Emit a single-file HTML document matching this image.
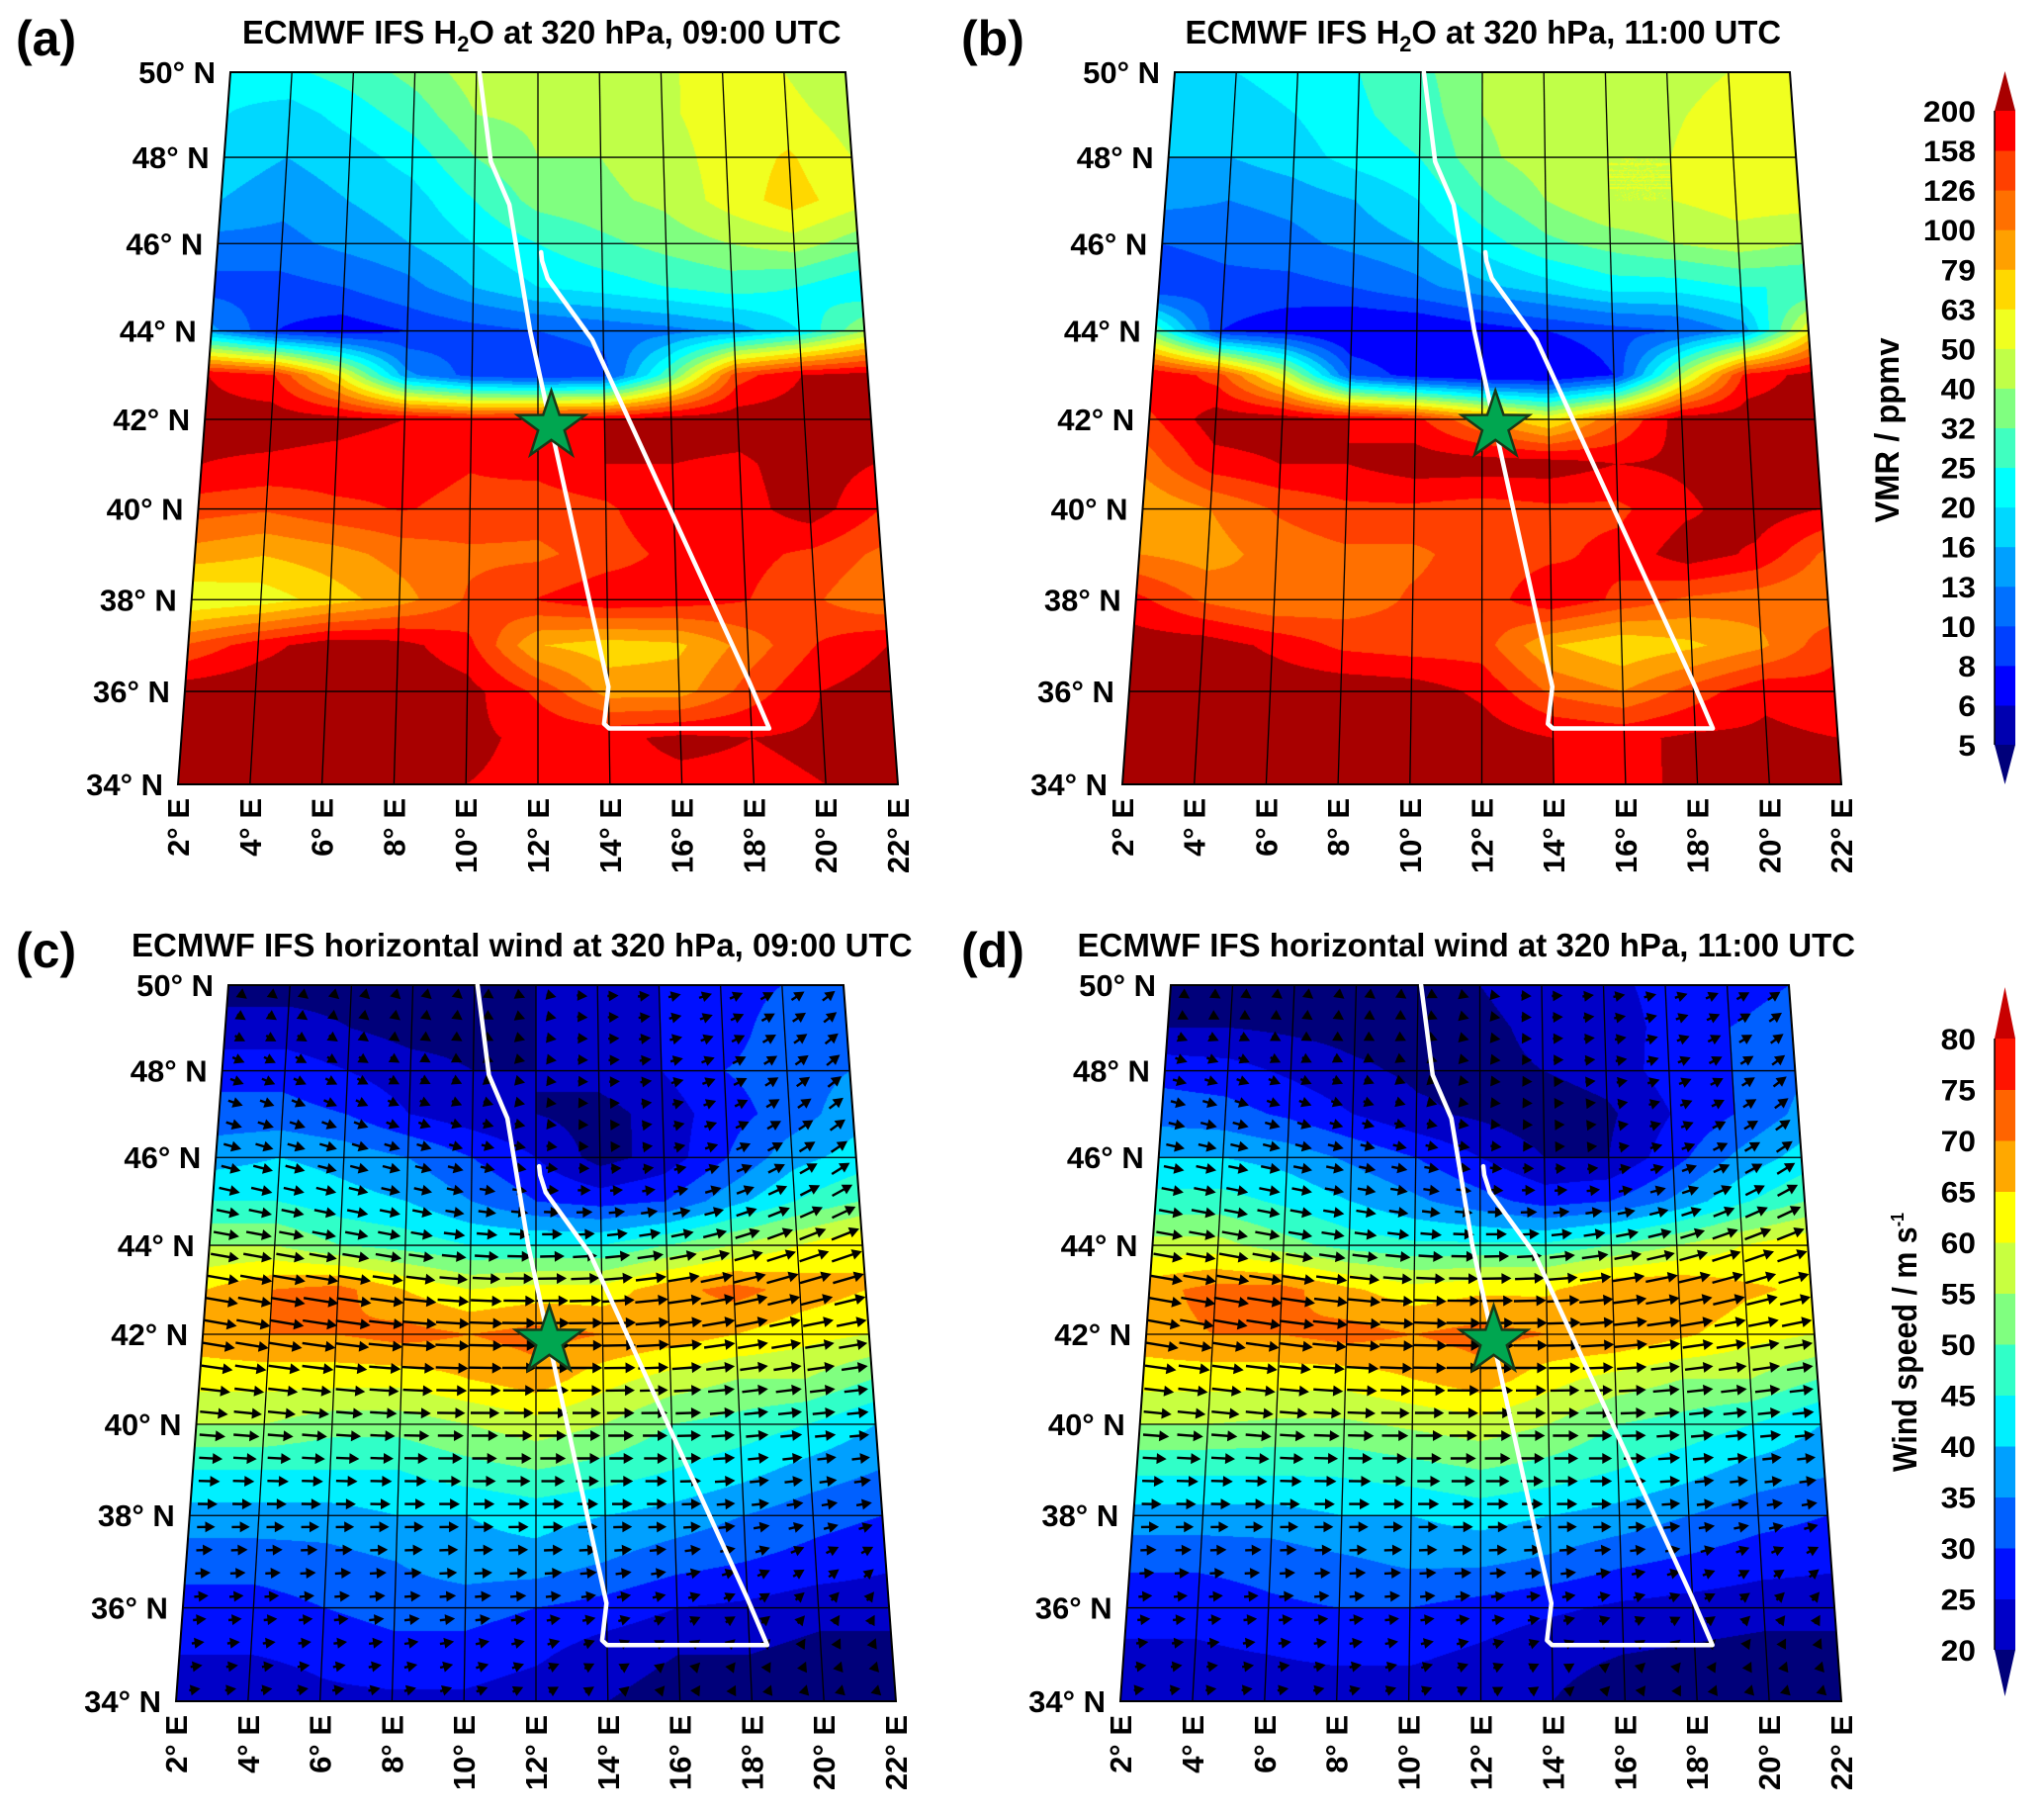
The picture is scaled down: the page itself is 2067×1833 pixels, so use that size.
<!DOCTYPE html>
<html><head><meta charset="utf-8">
<style>
html,body{margin:0;padding:0;background:#fff;}
#wrap{position:relative;width:2067px;height:1833px;overflow:hidden;}
canvas,svg{position:absolute;left:0;top:0;}
text{font-family:"Liberation Sans",Arial,sans-serif;font-weight:bold;fill:#000;}
</style></head>
<body>
<div id="wrap">
<canvas id="cv" width="2067" height="1833"></canvas>
<svg id="sv" width="2067" height="1833" xmlns="http://www.w3.org/2000/svg"></svg>
</div>
<script>
// ---------------- DATA ----------------
const gridLats = [50,49,48,47,46,45,44,43,42,41,40,39,38,37,36,35,34];
const gridLons = [2,4,6,8,10,12,14,16,18,20,22];
// H2O ppmv, 09 UTC
const h2o09 = [
[22,24,28,35,45,45,45,50,50,50,40],
[20,18,22,28,40,42,42,48,55,55,45],
[18,16,18,22,32,40,40,45,55,65,50],
[16,14,16,18,25,35,38,42,55,70,55],
[12,12,14,16,20,25,30,35,40,45,35],
[9,9,10,12,16,20,22,25,28,25,20],
[14,8,7,8,9,10,11,12,14,20,40],
[200,160,60,14,9,8,9,30,140,200,220],
[220,230,220,200,180,190,200,230,230,230,200],
[200,190,180,170,160,170,200,200,190,230,200],
[140,130,150,160,150,140,150,200,180,230,160],
[90,80,90,110,120,120,140,170,170,150,120],
[50,55,70,90,130,160,190,180,160,130,100],
[130,180,230,220,170,80,70,75,110,160,200],
[230,240,240,240,220,150,90,90,140,200,230],
[230,240,240,240,210,190,190,210,200,210,230],
[230,240,240,220,200,190,190,190,190,200,230]];
// H2O ppmv, 11 UTC
const h2o11 = [
[20,20,22,25,30,40,42,45,45,50,50],
[18,18,20,24,28,40,44,48,48,55,55],
[16,16,18,22,25,38,45,50,50,60,60],
[14,13,14,16,20,30,40,50,50,55,55],
[10,11,12,14,16,22,30,35,40,45,40],
[8,9,9,10,12,15,18,22,22,25,25],
[30,8,7,6,6,7,8,9,10,14,60],
[200,140,50,10,7,6,6,8,40,170,220],
[150,230,230,200,170,100,60,120,230,230,230],
[110,180,200,200,230,230,230,200,210,230,230],
[80,100,130,150,150,140,150,150,190,230,200],
[100,90,110,120,120,140,150,170,230,190,120],
[170,120,100,110,130,140,190,150,120,110,100],
[230,230,190,150,140,140,80,65,75,95,150],
[240,240,240,240,230,190,120,100,140,190,170],
[240,240,240,240,240,230,200,190,210,210,200],
[240,240,240,240,220,200,200,200,200,200,220]];
// wind speed m/s, 09 UTC
const wind09 = [
[18,18,18,18,18,20,22,25,28,30,32],
[22,22,20,18,18,20,22,25,28,32,34],
[28,28,25,22,20,20,22,25,30,32,35],
[32,32,30,25,22,20,18,22,28,32,38],
[38,40,38,35,30,25,18,22,30,38,42],
[45,45,42,40,35,30,28,30,38,45,50],
[55,55,50,48,45,45,45,50,55,60,65],
[65,70,72,65,60,62,62,68,72,68,65],
[68,70,70,72,70,72,70,68,65,62,60],
[62,62,62,62,65,68,62,58,55,55,50],
[55,55,52,52,55,58,55,50,48,45,40],
[45,45,45,45,48,50,48,45,42,38,35],
[38,38,38,40,40,42,40,38,35,32,30],
[32,32,33,35,38,38,35,32,30,28,26],
[28,28,30,32,32,30,28,25,24,22,22],
[25,25,26,28,28,26,22,20,20,18,18],
[22,22,24,24,24,22,20,18,18,18,18]];
// wind speed m/s, 11 UTC
const wind11 = [
[17,17,17,17,18,20,22,24,26,28,30],
[20,20,19,18,18,19,21,23,26,30,32],
[28,27,24,21,19,19,20,22,27,30,34],
[33,32,29,25,21,19,17,19,25,30,36],
[40,40,38,34,30,25,20,20,28,36,42],
[47,47,44,40,36,32,28,30,36,44,50],
[57,57,52,48,46,46,46,50,55,60,64],
[68,72,72,66,62,64,64,70,70,66,64],
[68,70,70,72,70,72,70,70,66,62,60],
[62,62,62,62,65,68,62,58,55,55,50],
[55,55,54,54,56,58,55,50,48,45,40],
[46,46,46,46,48,50,48,45,42,38,36],
[38,38,38,40,40,42,40,38,35,32,30],
[31,31,32,34,36,36,34,31,29,27,26],
[27,27,29,30,30,28,26,24,23,22,22],
[24,24,25,26,26,24,21,20,19,18,18],
[21,21,22,22,22,21,20,18,18,18,18]];
// wind direction (deg from east, + = northward) on 2-degree lat rows
const dirLats = [50,48,46,44,42,40,38,36,34];
const dir09 = [
[-40,-40,-45,-45,-40,-20,0,10,20,30,40],
[-20,-25,-30,-30,-25,-10,0,10,25,35,40],
[-15,-15,-15,-15,-15,-10,0,10,20,30,35],
[-10,-10,-10,-10,-5,0,5,10,15,20,20],
[-10,-10,-8,-5,-2,0,0,5,10,10,10],
[-5,-5,-5,-2,0,0,0,0,5,5,5],
[0,0,0,0,0,0,0,0,5,10,10],
[5,5,5,5,5,5,10,15,30,50,60],
[10,10,10,15,20,30,40,60,70,80,80]];
const dir11 = [
[-35,-35,-40,-40,-35,-15,0,10,15,25,35],
[-15,-20,-25,-25,-20,-8,0,8,20,30,40],
[-12,-12,-12,-12,-12,-8,0,8,18,28,35],
[-10,-10,-10,-8,-5,0,5,10,15,20,20],
[-10,-10,-8,-5,-2,0,0,5,8,10,10],
[-5,-5,-5,-2,0,0,0,0,5,5,5],
[0,0,0,0,0,0,0,0,5,8,10],
[5,5,5,5,5,5,8,15,25,45,60],
[10,10,10,15,20,30,40,55,70,80,80]];
// flight track (lon, lat)
const trackLon = [10.1,10.5,11.1,11.76,12.4,14.0,13.86,14.0,18.5,18.0,13.66,12.3,12.13,12.1];
const trackLat = [50,47.9,46.9,44.0,41.8,36.1,35.3,35.2,35.2,36.2,43.8,45.2,45.6,45.8];
const starLon = 12.4, starLat = 41.85;
// colour scales
const h2oLevels = [5,6,8,10,13,16,20,25,32,40,50,63,79,100,126,158,200];
const h2oColors = ['#00007a','#0000b0','#0000ff','#0040ff','#0070ff','#00a0ff','#00d8ff','#00ffff','#40ffc0','#80ff80','#c0ff48','#f0ff20','#ffd800','#ffa000','#ff7000','#ff4000','#ff0000','#a80000'];
const windLevels = [20,25,30,35,40,45,50,55,60,65,70,75,80];
const windColors = ['#00007a','#0000c8','#0010ff','#0060ff','#00a0ff','#00f0ff','#30ffc8','#80ff80','#c8ff40','#ffff00','#ffa800','#ff6400','#ff1400','#c80000'];
const latTicks = [50,48,46,44,42,40,38,36,34];
const lonTicks = [2,4,6,8,10,12,14,16,18,20,22];

// ---------------- GEOMETRY ----------------
const panels = [
 {id:'a',TL:[233,73],TR:[855,73],BL:[180,793],BR:[908,793],kind:'h2o',grid:h2o09,title:['ECMWF IFS H','2','O at 320 hPa, 09:00 UTC'],tcx:548,tby:44,tw:606,lab:'(a)',lx:16,ly:56},
 {id:'b',TL:[1188,73],TR:[1810,73],BL:[1135,793],BR:[1862,793],kind:'h2o',grid:h2o11,title:['ECMWF IFS H','2','O at 320 hPa, 11:00 UTC'],tcx:1500,tby:44,tw:603,lab:'(b)',lx:972,ly:56},
 {id:'c',TL:[231,996],TR:[853,996],BL:[178,1720],BR:[906,1720],kind:'wind',grid:wind09,dir:dir09,title:['ECMWF IFS  horizontal wind at 320 hPa, 09:00 UTC'],tcx:528,tby:967,tw:790,lab:'(c)',lx:16,ly:978},
 {id:'d',TL:[1184,996],TR:[1809,996],BL:[1133,1720],BR:[1862,1720],kind:'wind',grid:wind11,dir:dir11,title:['ECMWF IFS  horizontal wind at 320 hPa, 11:00 UTC'],tcx:1483,tby:967,tw:787,lab:'(d)',lx:972,ly:978}
];
const QA=42.875, QB=0.1406, QN=722;
function fOfLat(lat){const d=50-lat;return (QA*d+QB*d*d)/QN;}
function proj(P,lon,lat){
  const t=fOfLat(lat);
  const y=P.TL[1]+t*(P.BL[1]-P.TL[1]);
  const xl=P.TL[0]+t*(P.BL[0]-P.TL[0]);
  const xr=P.TR[0]+t*(P.BR[0]-P.TR[0]);
  return [xl+(lon-2)/20*(xr-xl),y];
}
function sampleGrid(g,lat,lon,rows,logv){
  const step = rows===gridLats ? 1 : 2;
  let r=(50-lat)/step, c=(lon-2)/2;
  r=Math.max(0,Math.min(rows.length-1.0001,r)); c=Math.max(0,Math.min(9.9999,c));
  const r0=Math.floor(r), c0=Math.floor(c), fr=r-r0, fc=c-c0;
  const r1=Math.min(r0+1,rows.length-1), c1=Math.min(c0+1,10);
  let v00=g[r0][c0],v01=g[r0][c1],v10=g[r1][c0],v11=g[r1][c1];
  if(logv){v00=Math.log(v00);v01=Math.log(v01);v10=Math.log(v10);v11=Math.log(v11);}
  const v=(v00*(1-fc)+v01*fc)*(1-fr)+(v10*(1-fc)+v11*fc)*fr;
  return logv?Math.exp(v):v;
}
function hex2rgb(h){return [parseInt(h.substr(1,2),16),parseInt(h.substr(3,2),16),parseInt(h.substr(5,2),16)];}
function colorIdx(v,levels){let i=0;while(i<levels.length&&v>=levels[i])i++;return i;}

// ---------------- FIELDS (canvas) ----------------
const cv=document.getElementById('cv'), ctx=cv.getContext('2d');
panels.forEach(P=>{
  const levels=P.kind==='h2o'?h2oLevels:windLevels;
  const cols=(P.kind==='h2o'?h2oColors:windColors).map(hex2rgb);
  const x0=Math.min(P.TL[0],P.BL[0]), x1=Math.max(P.TR[0],P.BR[0]);
  const y0=P.TL[1], y1=P.BL[1];
  const w=x1-x0, h=y1-y0;
  const img=ctx.createImageData(w,h);
  for(let py=0;py<h;py++){
    const t=(py+0.5)/h;
    const d=(-QA+Math.sqrt(QA*QA+4*QB*QN*t))/(2*QB);
    const lat=50-d;
    const xl=P.TL[0]+t*(P.BL[0]-P.TL[0]), xr=P.TR[0]+t*(P.BR[0]-P.TR[0]);
    for(let px=0;px<w;px++){
      const X=x0+px+0.5;
      if(X<xl||X>xr)continue;
      const lon=2+20*(X-xl)/(xr-xl);
      const v=sampleGrid(P.grid,lat,lon,gridLats,P.kind==='h2o');
      const c=cols[colorIdx(v,levels)];
      const k=(py*w+px)*4;
      img.data[k]=c[0];img.data[k+1]=c[1];img.data[k+2]=c[2];img.data[k+3]=255;
    }
  }
  ctx.putImageData(img,x0,y0);
});

// ---------------- OVERLAY (svg) ----------------
const NS='http://www.w3.org/2000/svg';
const sv=document.getElementById('sv');
function mk(tag,attrs,parent){const e=document.createElementNS(NS,tag);for(const k in attrs)e.setAttribute(k,attrs[k]);(parent||sv).appendChild(e);return e;}

panels.forEach(P=>{
  const g=mk('g',{});
  
  
  if(P.kind==='wind'){
    const ga=mk('g',{},g);
    
    
    for(let la=34.25;la<50;la+=0.5){
      for(let lo=2.5;lo<22;lo+=1){
        const sp=sampleGrid(P.grid,la,lo,gridLats,false);
        const ang=sampleGrid(P.dir,la,lo,dirLats,false)*Math.PI/180;
        const [cx,cy]=proj(P,lo,la);
        const L=Math.max(10,sp*0.5);
        const dx=Math.cos(ang), dy=-Math.sin(ang);
        const sx=cx-dx*L/2, sy=cy-dy*L/2, ex=cx+dx*L/2, ey=cy+dy*L/2;
        const hl=10, hw=5.5;
        const bx=ex-dx*hl, by=ey-dy*hl;
        const p=mk('path',{d:`M${sx.toFixed(1)},${sy.toFixed(1)}L${(bx+dx*2).toFixed(1)},${(by+dy*2).toFixed(1)}`,stroke:'#000','stroke-width':2.4,fill:'none'},ga);
        
        
        const hd=mk('path',{d:`M${ex.toFixed(1)},${ey.toFixed(1)}L${(bx-dy*hw).toFixed(1)},${(by+dx*hw).toFixed(1)}L${(bx+dy*hw).toFixed(1)},${(by-dx*hw).toFixed(1)}Z`,fill:'#000'},ga);
        
        
      }
    }
  }
  const gg=mk('g',{stroke:'#000','stroke-width':1.3,fill:'none'},g);
  
  
  latTicks.forEach(lat=>{
    const a=proj(P,2,lat), b=proj(P,22,lat);
    const l=mk('line',{x1:a[0],y1:a[1],x2:b[0],y2:b[1]},gg);
    
    
  });
  lonTicks.forEach(lon=>{
    const a=proj(P,lon,50), b=proj(P,lon,34);
    const l=mk('line',{x1:a[0],y1:a[1],x2:b[0],y2:b[1]},gg);
    
    
  });
  const frame=mk('polygon',{points:`${P.TL} ${P.TR} ${P.BR} ${P.BL}`,stroke:'#000','stroke-width':2,fill:'none'},g);
  
  
  const pts=trackLon.map((lo,i)=>proj(P,lo,trackLat[i]).map(v=>v.toFixed(1)).join(',')).join(' ');
  const tr=mk('polyline',{points:pts,stroke:'#fff','stroke-width':4.5,fill:'none','stroke-linejoin':'round','stroke-linecap':'round'},g);
  
  
  const [sx,sy]=proj(P,starLon,starLat);
  let sp='';
  for(let i=0;i<10;i++){const r=i%2?14:36;const a=-Math.PI/2+i*Math.PI/5;sp+=(sx+r*Math.cos(a)).toFixed(1)+','+(sy+r*Math.sin(a)).toFixed(1)+' ';}
  const st=mk('polygon',{points:sp,fill:'#00a650',stroke:'#183818','stroke-width':2.5},g);
  
  
  latTicks.forEach(lat=>{
    const [x,y]=proj(P,2,lat);
    const t=mk('text',{x:x-15,y:y+11,'text-anchor':'end','font-size':31},g);
    t.textContent=lat+'\u00B0 N';
    
    
  });
  lonTicks.forEach(lon=>{
    const [x,y]=proj(P,lon,34);
    const t=mk('text',{transform:`translate(${(x+11).toFixed(1)},${y+14}) rotate(-90)`,'text-anchor':'end','font-size':31},g);
    t.textContent=lon+'\u00B0 E';
    
    
  });
  const tg=mk('g',{},g);
  
  
  const tt=mk('text',{x:0,y:0,'font-size':33},tg);
  const s1=mk('tspan',{},tt); s1.textContent=P.title[0];
  if(P.title.length>1){
    const s2=mk('tspan',{dy:8,'font-size':22},tt); s2.textContent=P.title[1];
    const s3=mk('tspan',{dy:-8},tt); s3.textContent=P.title[2];
  }
  const bw=tt.getComputedTextLength()||P.tw;
  const sc=P.tw/bw;
  tg.setAttribute('transform',`translate(${P.tcx-P.tw/2},${P.tby}) scale(${sc.toFixed(3)},1)`);
  const pl=mk('text',{x:P.lx,y:P.ly,'font-size':50},g);
  pl.textContent=P.lab;
  
  
});

function colorbar(name,levels,colors,x,yTop,yBot,tipTop,tipBot,title,tcx,tcy,tlen,sup){
  const g=mk('g',{});
  
  
  const n=levels.length-1, bh=(yBot-yTop)/n, w=21;
  for(let i=0;i<n;i++){
    const r=mk('rect',{x:x,y:yBot-(i+1)*bh,width:w,height:bh+0.5,fill:colors[i+1]},g);
    
    
  }
  const up=mk('polygon',{points:`${x},${yTop} ${x+w},${yTop} ${x+w/2},${tipTop}`,fill:colors[colors.length-1]},g);
  
  
  const dn=mk('polygon',{points:`${x},${yBot} ${x+w},${yBot} ${x+w/2},${tipBot}`,fill:colors[0]},g);
  
  
  mk('line',{x1:x,y1:yTop,x2:x,y2:yBot,stroke:'#000','stroke-width':1.5},g);
  levels.forEach((v,i)=>{
    const s=String(v);
    const t=mk('text',{x:x-19,y:yBot-i*bh+11,'text-anchor':'end','font-size':30,textLength:s.length*17.7,lengthAdjust:'spacingAndGlyphs'},g);
    t.textContent=s;
    
    
  });
  const tt=mk('text',{transform:`translate(${tcx},${tcy}) rotate(-90)`,'text-anchor':'middle','font-size':34,textLength:tlen,lengthAdjust:'spacingAndGlyphs'},g);
  tt.textContent=title;
  if(sup){const s=mk('tspan',{dy:-13,'font-size':18},tt);s.textContent=sup;}
  
  
}
colorbar('colorbar-h2o',h2oLevels,h2oColors,2017,112,753,72,793,'VMR / ppmv',1920,435,187,null);
colorbar('colorbar-wind',windLevels,windColors,2017,1050,1668,998,1715,'Wind speed / m s',1938,1357,262,'-1');
</script>
</body></html>
